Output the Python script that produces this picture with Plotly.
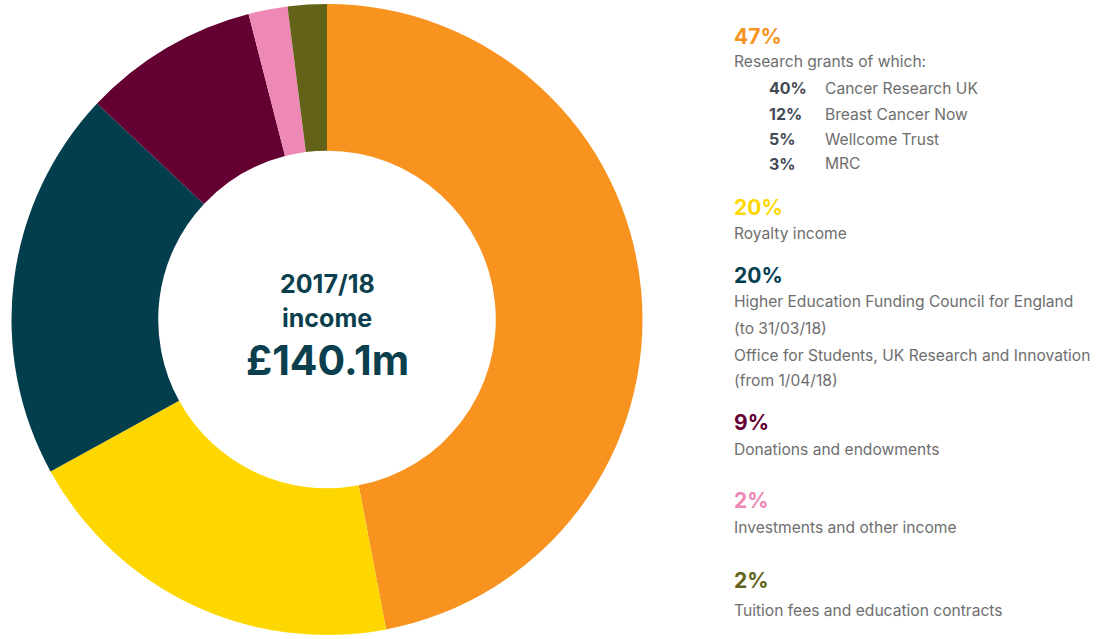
import plotly.graph_objects as go

# Data
categories = ["Research grants", "Royalty income",
              "Higher Education Funding Council for England / Office for Students, UK Research and Innovation",
              "Donations and endowments", "Investments and other income",
              "Tuition fees and education contracts"]
shares = [47, 20, 20, 9, 2, 2]
colors = ["#F7931E", "#FED700", "#033E4D", "#640032", "#EE88B4", "#626219"]

pct_labels = ["47%", "20%", "20%", "9%", "2%", "2%"]
desc_lines = [
    ["Research grants of which:"],
    ["Royalty income"],
    ["Higher Education Funding Council for England", "(to 31/03/18)",
     "Office for Students, UK Research and Innovation", "(from 1/04/18)"],
    ["Donations and endowments"],
    ["Investments and other income"],
    ["Tuition fees and education contracts"],
]
sub_pcts = ["40%", "12%", "5%", "3%"]
sub_names = ["Cancer Research UK", "Breast Cancer Now", "Wellcome Trust", "MRC"]

center_lines = ["2017/18", "income", "£140.1m"]

W, H = 1111, 639
FONT = "Inter, 'Open Sans', sans-serif"
GREY = "#6e6e6e"
SUBGREY = "#444a55"

fig = go.Figure(go.Pie(
    labels=categories, values=shares, sort=False, direction="clockwise",
    rotation=0, hole=0.535, marker=dict(colors=colors, line=dict(width=0)),
    textinfo="none", hoverinfo="label+percent", showlegend=False,
    domain=dict(x=[11 / W, 643 / W], y=[4 / H, 635 / H]),
))

ann = []

def py(y):
    return 1 - y / H

def add(x, y, text, size, color, bold=False, anchor="left"):
    ann.append(dict(x=x / W, y=py(y), xref="paper", yref="paper", text=f"<b>{text}</b>" if bold else text,
                    showarrow=False, xanchor=anchor, yanchor="middle",
                    font=dict(family=FONT, size=size, color=color)))

# Legend text blocks
pct_y = [37, 207, 275, 422, 500, 580]
desc_y = [[62], [234], [302, 328, 355, 380], [449], [527], [610]]
for i in range(len(shares)):
    add(732, pct_y[i], pct_labels[i], 21, colors[i], bold=True)
    for line, yy in zip(desc_lines[i], desc_y[i]):
        add(732, yy, line, 15.6, GREY)

sub_y = [88, 114, 139, 164]
for p, n, yy in zip(sub_pcts, sub_names, sub_y):
    add(767, yy, p, 16, SUBGREY, bold=True)
    add(823, yy, n, 15.6, GREY)

# Centre text
cx = 327
add(cx, 284, center_lines[0], 25, "#0B3F4E", bold=True, anchor="center")
add(cx, 318, center_lines[1], 25, "#0B3F4E", bold=True, anchor="center")
add(cx, 360, center_lines[2], 41, "#0B3F4E", bold=True, anchor="center")

fig.update_layout(width=W, height=H, margin=dict(l=0, r=0, t=0, b=0),
                  paper_bgcolor="white", plot_bgcolor="white", annotations=ann)

fig.write_html("out.html", config={"displayModeBar": False},
               post_script="document.body.style.margin='0';document.body.style.overflow='hidden';")
